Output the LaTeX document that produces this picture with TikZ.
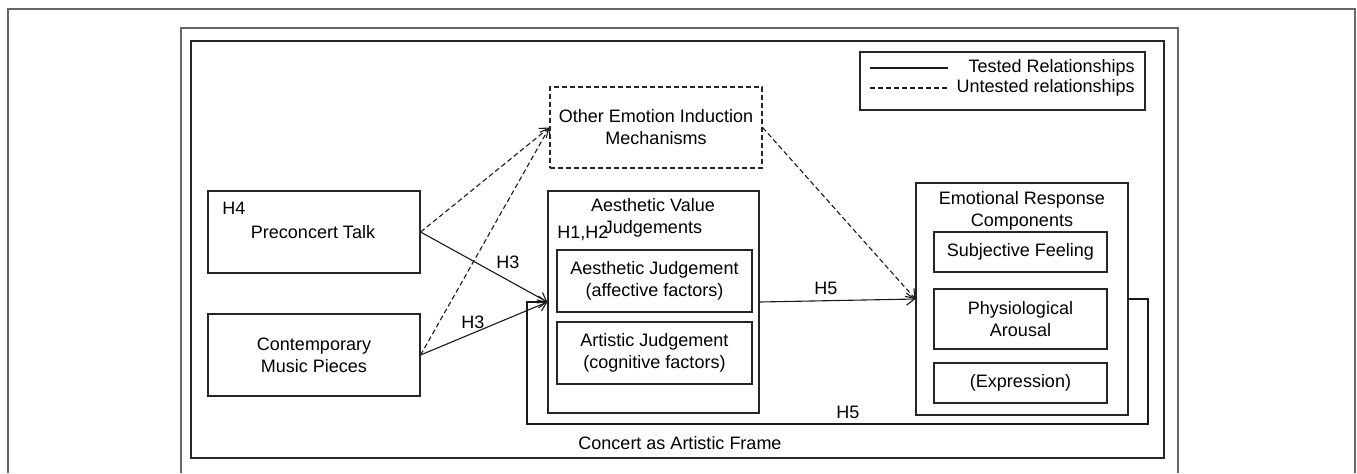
\documentclass[tikz,border=0pt]{standalone}
\usepackage{fontspec}
\setmainfont{Liberation Sans}
\usetikzlibrary{arrows.meta,fit}
\begin{document}
\begin{tikzpicture}[x=0.5pt,y=-0.5pt,
  box/.style={draw=black!85, line width=0.6pt, inner sep=0pt},
  txt/.style={inner sep=0pt, align=center, font=\fontsize{9}{11}\selectfont},
  frame/.style={draw=black!60, line width=0.6pt},
  conn/.style={draw=black!90, line width=0.55pt, -{Straight Barb[length=4pt,width=6pt]}},
  dconn/.style={conn, dash pattern=on 2.5pt off 1.5pt},
  dline/.style={draw=black!90, line width=0.55pt, dash pattern=on 2.5pt off 1.5pt},
  sline/.style={draw=black!90, line width=0.55pt},
]
\useasboundingbox (0,0) rectangle (1357,473);
% outer frames
\draw[frame] (8,473) -- (8,9) -- (1355,9) -- (1355,473);
\draw[frame] (181,473) -- (181,28) -- (1178,28) -- (1178,473);
% concert frame
\node[box, fit={(191,41)(1164,458)}] (concert) {};
\node[txt] (concertlbl) at (680,443) {Concert as Artistic Frame};
% legend
\node[box, fit={(860,52)(1145,110)}] (legend) {};
\coordinate (l1a) at (870,68); \coordinate (l1b) at (948,68);
\coordinate (l2a) at (870,88); \coordinate (l2b) at (948,88);
\draw[sline] (l1a) -- (l1b);
\draw[dline] (l2a) -- (l2b);
\node[txt, anchor=east] (tested) at (1135,68) {Tested Relationships};
\node[txt, anchor=east] (untested) at (1135,88) {Untested relationships};
% other mechanisms
\node[box, dash pattern=on 2.5pt off 1.5pt, fit={(550,87)(762,168)}] (other) {};
\node[txt] (othertxt) at (other.center) {Other Emotion Induction\\Mechanisms};
% preconcert talk
\node[box, fit={(208,191)(420,273)}] (pre) {};
\node[txt] (pretxt) at (313,232) {Preconcert Talk};
\node[txt, anchor=west] (h4) at (222,208) {H4};
% contemporary
\node[box, fit={(208,314)(420,396)}] (cmp) {};
\node[txt] (cmptxt) at (cmp.center) {Contemporary\\Music Pieces};
% aesthetic value judgements
\node[box, fit={(548,191)(759,413)}] (avj) {};
\node[txt] (avjtitle) at (653,218) {Aesthetic Value\\Judgements};
\node[txt, anchor=west] (h12) at (557,233) {H1,H2};
\node[box, fit={(557,250)(752,312)}] (aj) {};
\node[txt] (ajtxt) at (aj.center) {Aesthetic Judgement\\(affective factors)};
\node[box, fit={(557,322)(752,384)}] (artj) {};
\node[txt] (artjtxt) at (artj.center) {Artistic Judgement\\(cognitive factors)};
% emotional response
\node[box, fit={(916,183)(1128,415)}] (er) {};
\node[txt] (ertitle) at (1022,211) {Emotional Response\\Components};
\node[box, fit={(934,232)(1107,272)}] (sf) {};
\node[txt] (sftxt) at (sf.center) {Subjective Feeling};
\node[box, fit={(934,289)(1107,349)}] (pa) {};
\node[txt] (patxt) at (pa.center) {Physiological\\Arousal};
\node[box, fit={(934,363)(1107,403)}] (ex) {};
\node[txt] (extxt) at (ex.center) {(Expression)};
% connectors
\draw[conn] (pre.east) -- (avj.west);
\draw[conn] (cmp.east) -- (avj.west);
\draw[dconn] (pre.east) -- (other.west);
\draw[dconn] (cmp.east) -- (other.west);
\draw[dconn] (other.east) -- (er.west);
\draw[conn] (avj.east) -- (er.west);
\coordinate (fb1) at (1148,299);
\coordinate (fb2) at (1148,424);
\coordinate (fb3) at (527,424);
\coordinate (fb4) at (527,302);
\draw[conn] (er.east) -- (fb1) -- (fb2) -- (fb3) -- (fb4) -- (avj.west);
% labels
\node[txt] (h3a) at (508,262) {H3};
\node[txt] (h3b) at (473,322) {H3};
\node[txt] (h5a) at (826,288) {H5};
\node[txt] (h5b) at (848,412) {H5};
\end{tikzpicture}
\end{document}
